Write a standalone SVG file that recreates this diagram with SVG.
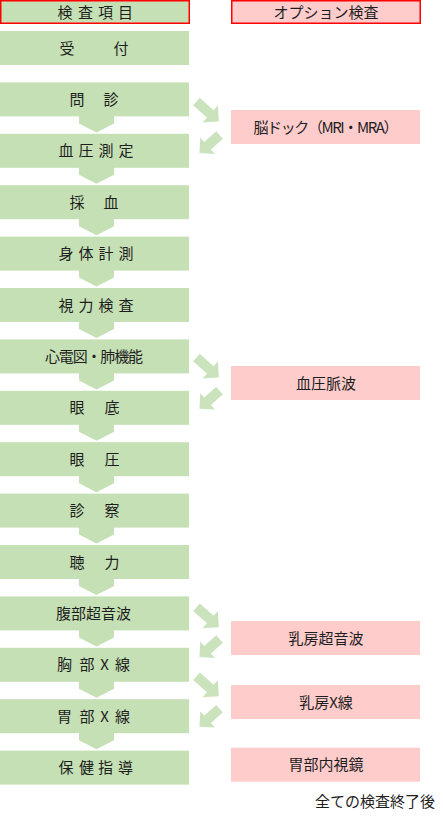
<svg xmlns="http://www.w3.org/2000/svg" xmlns:xlink="http://www.w3.org/1999/xlink" width="443" height="818" viewBox="0 0 443 818">
<style>
.g{fill:#c5e0b4}
.p{fill:#ffcccc}
.hdr{stroke:#ff0000;stroke-width:1.5}
.t{font-family:"Noto Sans CJK JP","Noto Sans",sans-serif;font-size:15px;fill:#1e1e1e;text-anchor:middle}
.e{text-anchor:end}
.da{fill:#c5e0b4}
.xa{fill:#cbe3bd}
</style>
<defs>
<path id="down" d="M79,-1 H114 V7 L96.5,16 L79,7 Z"/>
<path id="ar1" d="M0,-5 H18.5 V-11.5 L30,0 L18.5,11.5 V5 H0 Z"/>
<path id="ar2" d="M0,-5 H16 V-11 L27,0 L16,11 V5 H0 Z"/>
</defs>
<rect width="443" height="818" fill="#ffffff"/>

<g id="connectors">
<use xlink:href="#down" class="da" transform="translate(0,116.4)"/>
<use xlink:href="#down" class="da" transform="translate(0,167.8)"/>
<use xlink:href="#down" class="da" transform="translate(0,219.2)"/>
<use xlink:href="#down" class="da" transform="translate(0,270.6)"/>
<use xlink:href="#down" class="da" transform="translate(0,322)"/>
<use xlink:href="#down" class="da" transform="translate(0,373.4)"/>
<use xlink:href="#down" class="da" transform="translate(0,424.8)"/>
<use xlink:href="#down" class="da" transform="translate(0,476.2)"/>
<use xlink:href="#down" class="da" transform="translate(0,527.6)"/>
<use xlink:href="#down" class="da" transform="translate(0,579)"/>
<use xlink:href="#down" class="da" transform="translate(0,630.4)"/>
<use xlink:href="#down" class="da" transform="translate(0,681.8)"/>
<use xlink:href="#down" class="da" transform="translate(0,733.2)"/>
<use xlink:href="#ar1" class="xa" transform="translate(196.5,101.5) rotate(42)"/>
<use xlink:href="#ar2" class="xa" transform="translate(219.5,135) rotate(138)"/>
<use xlink:href="#ar1" class="xa" transform="translate(196.5,357.5) rotate(42)"/>
<use xlink:href="#ar2" class="xa" transform="translate(219.5,390.6) rotate(138)"/>
<use xlink:href="#ar1" class="xa" transform="translate(196.5,607.2) rotate(42)"/>
<use xlink:href="#ar2" class="xa" transform="translate(219.5,639) rotate(138)"/>
<use xlink:href="#ar1" class="xa" transform="translate(196.5,676.2) rotate(42)"/>
<use xlink:href="#ar2" class="xa" transform="translate(219.5,708.6) rotate(138)"/>
</g>

<g id="header-left">
<rect class="g hdr" x="0.75" y="0.75" width="188.5" height="22.5"/>
<text class="t" x="65 85.5 105.5 125.5" y="17.5">検査項目</text>
</g>
<g id="header-right">
<rect class="p hdr" x="231.75" y="0.75" width="188.5" height="22.5"/>
<text class="t" x="326" y="17.5">オプション検査</text>
</g>

<g id="n-uketsuke"><rect class="g" x="0" y="31" width="189" height="34"/><text class="t" x="67 121" y="53.5">受付</text></g>
<g id="n-monshin"><rect class="g" x="0" y="82.4" width="189" height="34"/><text class="t" x="77 111" y="104.9">問診</text></g>
<g id="n-ketsuatsu"><rect class="g" x="0" y="133.8" width="189" height="34"/><text class="t" x="66 86 106 126" y="156.3">血圧測定</text></g>
<g id="n-saiketsu"><rect class="g" x="0" y="185.2" width="189" height="34"/><text class="t" x="77 111" y="207.7">採血</text></g>
<g id="n-shintai"><rect class="g" x="0" y="236.6" width="189" height="34"/><text class="t" x="66 86 106 126" y="259.1">身体計測</text></g>
<g id="n-shiryoku"><rect class="g" x="0" y="288" width="189" height="34"/><text class="t" x="66 86 106 126" y="310.5">視力検査</text></g>
<g id="n-shindenzu"><rect class="g" x="0" y="339.4" width="189" height="34"/><text class="t" x="94" y="361.9" textLength="98" lengthAdjust="spacing">心電図・肺機能</text></g>
<g id="n-gantei"><rect class="g" x="0" y="390.8" width="189" height="34"/><text class="t" x="77 112" y="413.3">眼底</text></g>
<g id="n-ganatsu"><rect class="g" x="0" y="442.2" width="189" height="34"/><text class="t" x="77 112" y="464.7">眼圧</text></g>
<g id="n-shinsatsu"><rect class="g" x="0" y="493.6" width="189" height="34"/><text class="t" x="77 112" y="516.1">診察</text></g>
<g id="n-choryoku"><rect class="g" x="0" y="545" width="189" height="34"/><text class="t" x="77 112" y="567.5">聴力</text></g>
<g id="n-fukubu"><rect class="g" x="0" y="596.4" width="189" height="34"/><text class="t" x="93.5" y="618.9">腹部超音波</text></g>
<g id="n-kyobu"><rect class="g" x="0" y="647.8" width="189" height="34"/><text class="t" x="64.5 87 104.5 122.5" y="670.3">胸部X線</text></g>
<g id="n-ibu"><rect class="g" x="0" y="699.2" width="189" height="34"/><text class="t" x="64.5 87 104.5 122.5" y="721.7">胃部X線</text></g>
<g id="n-hoken"><rect class="g" x="0" y="750.6" width="189" height="34"/><text class="t" x="66 86.5 105.5 125.5" y="773.1">保健指導</text></g>

<g id="o-nodock"><rect class="p" x="231" y="110" width="189" height="34"/><text class="t" x="326" y="132.5" textLength="145" lengthAdjust="spacing">脳ドック（MRI・MRA）</text></g>
<g id="o-myakuha"><rect class="p" x="231" y="366" width="189" height="34"/><text class="t" x="326" y="388.5">血圧脈波</text></g>
<g id="o-nyubo-us"><rect class="p" x="231" y="621" width="189" height="34"/><text class="t" x="326" y="643.5">乳房超音波</text></g>
<g id="o-nyubo-x"><rect class="p" x="231" y="685" width="189" height="34"/><text class="t" x="326" y="707.5">乳房X線</text></g>
<g id="o-naishikyo"><rect class="p" x="231" y="747.7" width="189" height="34"/><text class="t" x="326" y="770.2">胃部内視鏡</text></g>

<text class="t e" x="435" y="807">全ての検査終了後</text>
</svg>
